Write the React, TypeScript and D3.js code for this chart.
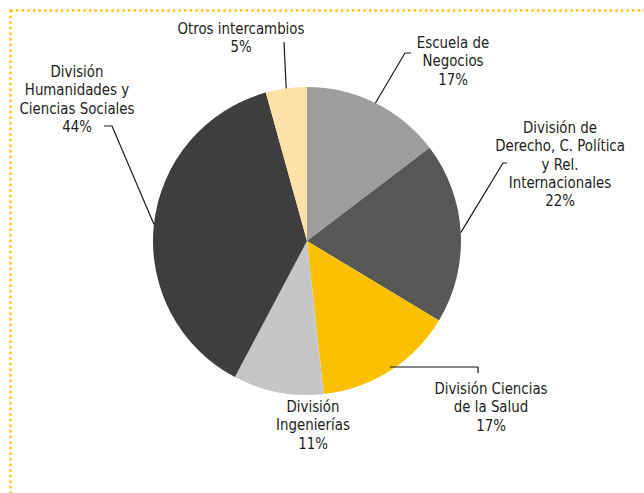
import React from "react";
import * as d3 from "d3";

// Share of exchanges by academic unit (labels as printed)
const categories = [
  ["Escuela de", "Negocios"],
  ["División de", "Derecho, C. Política", "y Rel.", "Internacionales"],
  ["División Ciencias", "de la Salud"],
  ["División", "Ingenierías"],
  ["División", "Humanidades y", "Ciencias Sociales"],
  ["Otros intercambios"],
];
const values = [17, 22, 17, 11, 44, 5];
const colors = ["#9d9d9c", "#575756", "#fbc100", "#c6c6c6", "#3e3e3d", "#ffe2a8"];

// label layout: centre x, first baseline y, leader shape
const labelLayout = [
  { x: 453, y: 48, leader: "elbowUp", ex: 405, ey: 53, tx: 411 },
  { x: 560, y: 133, leader: "elbowUp", ex: 503, ey: 163, tx: 507 },
  { x: 491, y: 394, leader: "right", ex: 478, ey: 367, tx: 478 },
  { x: 313, y: 412, leader: "none", ex: 0, ey: 0, tx: 0 },
  { x: 77, y: 77, leader: "elbowUp", ex: 112, ey: 126, tx: 104 },
  { x: 241, y: 34, leader: "vertical", ex: 284, ey: 42, tx: 284 },
];

const W = 644;
const H = 493;
const cx = 307;
const cy = 241;
const R = 154;
const lineH = 18.3;
const font = "'DejaVu Sans Condensed', 'Liberation Sans Narrow', sans-serif";

export default function App() {
  const pie = d3.pie<number>().sort(null).value((d) => d);
  const arcs = pie(values);
  const arc = d3.arc<d3.PieArcDatum<number>>().innerRadius(0).outerRadius(R);

  const edgePoint = (a: d3.PieArcDatum<number>) => {
    const m = (a.startAngle + a.endAngle) / 2;
    return [cx + R * Math.sin(m), cy - R * Math.cos(m)];
  };

  const line = d3.line();

  return (
    <svg
      width={W}
      height={H}
      style={{ position: "fixed", left: 0, top: 0, background: "#fff" }}
    >
      {/* dotted frame, runs past the right and bottom edges */}
      <rect
        x={10.5}
        y={10.5}
        width={W + 20}
        height={H + 20}
        fill="none"
        stroke="#ffc20e"
        strokeWidth={2.4}
        strokeDasharray="2.4 3.2"
      />
      <g transform={`translate(${cx},${cy})`}>
        {arcs.map((a, i) => (
          <path key={i} d={arc(a) || ""} fill={colors[i]} />
        ))}
      </g>
      {arcs.map((a, i) => {
        const L = labelLayout[i];
        const [px, py] = edgePoint(a);
        let pts: [number, number][] = [];
        if (L.leader === "elbowUp") pts = [[px, py], [L.ex, L.ey], [L.tx, L.ey]];
        if (L.leader === "right") pts = [[px, L.ey], [L.ex, L.ey], [L.ex, L.ey + 6]];
        if (L.leader === "vertical") pts = [[px, py], [L.ex, L.ey]];
        return pts.length ? (
          <path key={"l" + i} d={line(pts) || ""} fill="none" stroke="#1a1a1a" strokeWidth={1.2} />
        ) : null;
      })}
      {arcs.map((a, i) => {
        const L = labelLayout[i];
        const lines = [...categories[i], `${values[i]}%`];
        return (
          <g key={"t" + i} transform={`translate(${L.x},${L.y}) scale(0.9,1)`}>
            <text
              textAnchor="middle"
              fontFamily={font}
              fontSize={16.5}
              fill="#1d1d1b"
            >
              {lines.map((s, j) => (
                <tspan key={j} x={0} y={j * lineH}>
                  {s}
                </tspan>
              ))}
            </text>
          </g>
        );
      })}
    </svg>
  );
}
